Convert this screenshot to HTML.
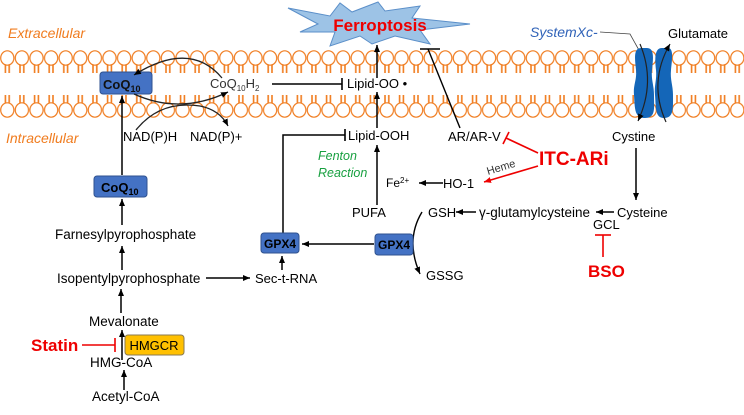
<!DOCTYPE html>
<html><head><meta charset="utf-8"><style>
body{margin:0;background:#fff}
svg text{font-family:"Liberation Sans",sans-serif}
</style></head><body>
<svg width="744" height="410" viewBox="0 0 744 410" xmlns="http://www.w3.org/2000/svg">
<defs>
<pattern id="mt" x="0" y="0" width="14.6" height="80" patternUnits="userSpaceOnUse">
<ellipse cx="7.3" cy="58" rx="6.6" ry="7.2" fill="#fff" stroke="#f07c1f" stroke-width="1.2"/>
<rect x="4.6" y="65" width="1.6" height="8" fill="#f07c1f"/><rect x="8.4" y="65" width="1.6" height="8" fill="#f07c1f"/>
</pattern>
<pattern id="mb" x="0" y="0" width="14.6" height="130" patternUnits="userSpaceOnUse">
<ellipse cx="7.3" cy="110" rx="6.6" ry="7.2" fill="#fff" stroke="#f07c1f" stroke-width="1.2"/>
<rect x="4.6" y="95" width="1.6" height="8" fill="#f07c1f"/><rect x="8.4" y="95" width="1.6" height="8" fill="#f07c1f"/>
</pattern>
<marker id="a" markerWidth="8" markerHeight="8" refX="7" refY="4" orient="auto" markerUnits="userSpaceOnUse"><path d="M0,1 L7,4 L0,7 Z" fill="#000"/></marker>
<marker id="ar" markerWidth="8" markerHeight="8" refX="7" refY="4" orient="auto" markerUnits="userSpaceOnUse"><path d="M0,1 L7,4 L0,7 Z" fill="#e00"/></marker>
</defs>
<rect x="0" y="50" width="744" height="24" fill="url(#mt)"/>
<rect x="0" y="94" width="744" height="24" fill="url(#mb)"/>

<polygon points="288,8 330,16 340,3 352,12 378,2 385,11 420,6 412,18 470,24 420,30 430,44 395,36 372,44 360,36 330,46 335,32 300,32 318,24" fill="#9dc3e6" stroke="#5b8fc9" stroke-width="1"/>
<text x="380" y="31" font-size="17" font-weight="bold" fill="#e00" text-anchor="middle">Ferroptosis</text>

<text x="8" y="38" font-size="14" font-style="italic" fill="#f07c1f">Extracellular</text>
<text x="6" y="143" font-size="14" font-style="italic" fill="#f07c1f">Intracellular</text>

<text x="530" y="37" font-size="14" font-style="italic" fill="#2f62b8">SystemXc-</text>
<polyline points="600,32 630,34 640,52" fill="none" stroke="#444" stroke-width="0.8"/>
<text x="668" y="38" font-size="13">Glutamate</text>
<path d="M641,48 C633,48 635,60 636,70 C637,80 633,85 634,95 C635,108 634,118 645,118 C656,118 654,108 654,95 C654,85 651,80 652,70 C653,60 655,48 647,48Z" fill="#1466b8"/>
<path d="M662,48 C654,48 655,60 656,70 C657,80 654,85 655,95 C656,108 655,118 664,118 C674,118 673,108 673,95 C673,85 670,80 671,70 C672,60 674,48 668,48Z" fill="#1466b8"/>
<path d="M640,44 Q656,82 638,121" fill="none" stroke="#222" stroke-width="1.2" marker-end="url(#a)"/>
<path d="M666,122 Q648,82 670,44" fill="none" stroke="#222" stroke-width="1.2" marker-end="url(#a)"/>

<rect x="100" y="72" width="52" height="22" rx="3" fill="#4472c4" stroke="#2f528f"/>
<text x="103" y="89" font-size="13" font-weight="bold" fill="#111">CoQ<tspan font-size="9" dy="3">10</tspan></text>
<text x="210" y="88" font-size="13" fill="#333">CoQ<tspan font-size="8" dy="3">10</tspan><tspan dy="-3">H</tspan><tspan font-size="8" dy="3">2</tspan></text>
<path d="M222,78 Q190,40 134,75" fill="none" stroke="#222" stroke-width="1.3" marker-end="url(#a)"/>
<path d="M134,94 Q180,115 228,92" fill="none" stroke="#222" stroke-width="1.3" marker-end="url(#a)"/>
<path d="M136,130 Q160,100 200,106 Q220,110 228,126" fill="none" stroke="#222" stroke-width="1.3" marker-end="url(#a)"/>
<line x1="272" y1="84" x2="342" y2="84" stroke="#000" stroke-width="1.6"/><line x1="342" y1="78" x2="342" y2="90" stroke="#000" stroke-width="1.6"/>
<text x="347" y="88" font-size="13">Lipid-OO •</text>
<line x1="377" y1="78" x2="377" y2="45" stroke="#000" stroke-width="1.5" marker-end="url(#a)"/>

<text x="123" y="141" font-size="13">NAD(P)H</text>
<text x="190" y="141" font-size="13">NAD(P)+</text>

<text x="348" y="140" font-size="13">Lipid-OOH</text>
<polyline points="283,253 283,135 345,135" fill="none" stroke="#000" stroke-width="1.5"/><line x1="345" y1="129" x2="345" y2="141" stroke="#000" stroke-width="1.6"/>
<line x1="377" y1="128" x2="377" y2="92" stroke="#000" stroke-width="1.5" marker-end="url(#a)"/>
<text x="318" y="160" font-size="12.5" font-style="italic" fill="#18a040">Fenton</text>
<text x="318" y="177" font-size="12.5" font-style="italic" fill="#18a040">Reaction</text>

<text x="448" y="141" font-size="13">AR/AR-V</text>
<line x1="460" y1="128" x2="428" y2="49" stroke="#000" stroke-width="1.4"/><line x1="420" y1="49" x2="440" y2="49" stroke="#000" stroke-width="1.6"/>
<line x1="538" y1="153" x2="506" y2="138" stroke="#e00" stroke-width="1.6"/><line x1="503" y1="144" x2="509" y2="132" stroke="#e00" stroke-width="1.6"/>
<text x="539" y="165" font-size="19" font-weight="bold" fill="#e00">ITC-ARi</text>
<line x1="538" y1="166" x2="484" y2="182" stroke="#e00" stroke-width="1.6" marker-end="url(#ar)"/>
<text x="0" y="0" font-size="11" fill="#333" transform="translate(488,175) rotate(-17)">Heme</text>
<text x="386" y="187" font-size="12">Fe<tspan font-size="8" dy="-4">2+</tspan></text>
<text x="443" y="188" font-size="13">HO-1</text>
<line x1="443" y1="183" x2="419" y2="183" stroke="#000" stroke-width="1.5" marker-end="url(#a)"/>

<text x="612" y="141" font-size="13">Cystine</text>
<line x1="636" y1="148" x2="636" y2="200" stroke="#000" stroke-width="1.5" marker-end="url(#a)"/>

<text x="352" y="217" font-size="13">PUFA</text>
<line x1="377" y1="205" x2="377" y2="145" stroke="#000" stroke-width="1.5" marker-end="url(#a)"/>
<text x="428" y="217" font-size="13">GSH</text>
<line x1="476" y1="212" x2="456" y2="212" stroke="#000" stroke-width="1.5" marker-end="url(#a)"/>
<text x="479" y="217" font-size="13.5">γ-glutamylcysteine</text>
<line x1="614" y1="212" x2="596" y2="212" stroke="#000" stroke-width="1.5" marker-end="url(#a)"/>
<text x="617" y="217" font-size="13">Cysteine</text>
<text x="593" y="229" font-size="13">GCL</text>
<line x1="603" y1="235" x2="603" y2="257" stroke="#e00" stroke-width="1.6"/><line x1="595" y1="235" x2="611" y2="235" stroke="#e00" stroke-width="1.6"/>
<text x="588" y="277" font-size="17" font-weight="bold" fill="#e00">BSO</text>
<path d="M422,212 Q405,240 420,274" fill="none" stroke="#000" stroke-width="1.4" marker-end="url(#a)"/>
<text x="426" y="280" font-size="13">GSSG</text>

<rect x="375" y="234" width="38" height="21" rx="3" fill="#4472c4" stroke="#2f528f"/>
<text x="394" y="249" font-size="12" font-weight="bold" text-anchor="middle">GPX4</text>
<rect x="261" y="233" width="38" height="20" rx="3" fill="#4472c4" stroke="#2f528f"/>
<text x="280" y="248" font-size="12" font-weight="bold" text-anchor="middle">GPX4</text>
<line x1="374" y1="244" x2="302" y2="244" stroke="#000" stroke-width="1.5" marker-end="url(#a)"/>
<text x="255" y="283" font-size="13">Sec-t-RNA</text>
<line x1="282" y1="270" x2="282" y2="256" stroke="#000" stroke-width="1.5" marker-end="url(#a)"/>

<rect x="94" y="176" width="53" height="21" rx="3" fill="#4472c4" stroke="#2f528f"/>
<text x="101" y="192" font-size="13" font-weight="bold">CoQ<tspan font-size="9" dy="3">10</tspan></text>
<line x1="122" y1="175" x2="122" y2="96" stroke="#000" stroke-width="1.5" marker-end="url(#a)"/>
<text x="55" y="239" font-size="13.5">Farnesylpyrophosphate</text>
<line x1="122" y1="225" x2="122" y2="199" stroke="#000" stroke-width="1.5" marker-end="url(#a)"/>
<text x="57" y="283" font-size="13.5">Isopentylpyrophosphate</text>
<line x1="122" y1="270" x2="122" y2="246" stroke="#000" stroke-width="1.5" marker-end="url(#a)"/>
<line x1="206" y1="278" x2="250" y2="278" stroke="#000" stroke-width="1.5" marker-end="url(#a)"/>
<text x="89" y="326" font-size="13.5">Mevalonate</text>
<line x1="121" y1="313" x2="121" y2="289" stroke="#000" stroke-width="1.5" marker-end="url(#a)"/>
<rect x="125" y="335" width="59" height="20" rx="3" fill="#ffc000" stroke="#8a7a50"/>
<text x="154" y="350" font-size="13" text-anchor="middle">HMGCR</text>
<line x1="122" y1="360" x2="122" y2="330" stroke="#000" stroke-width="1.5" marker-end="url(#a)"/>
<text x="31" y="351" font-size="17" font-weight="bold" fill="#e00">Statin</text>
<line x1="82" y1="345" x2="115" y2="345" stroke="#e00" stroke-width="1.6"/><line x1="115" y1="338" x2="115" y2="352" stroke="#e00" stroke-width="1.6"/>
<text x="90" y="367" font-size="13.5">HMG-CoA</text>
<line x1="124" y1="390" x2="124" y2="370" stroke="#000" stroke-width="1.5" marker-end="url(#a)"/>
<text x="92" y="401" font-size="13.5">Acetyl-CoA</text>
</svg>
</body></html>
